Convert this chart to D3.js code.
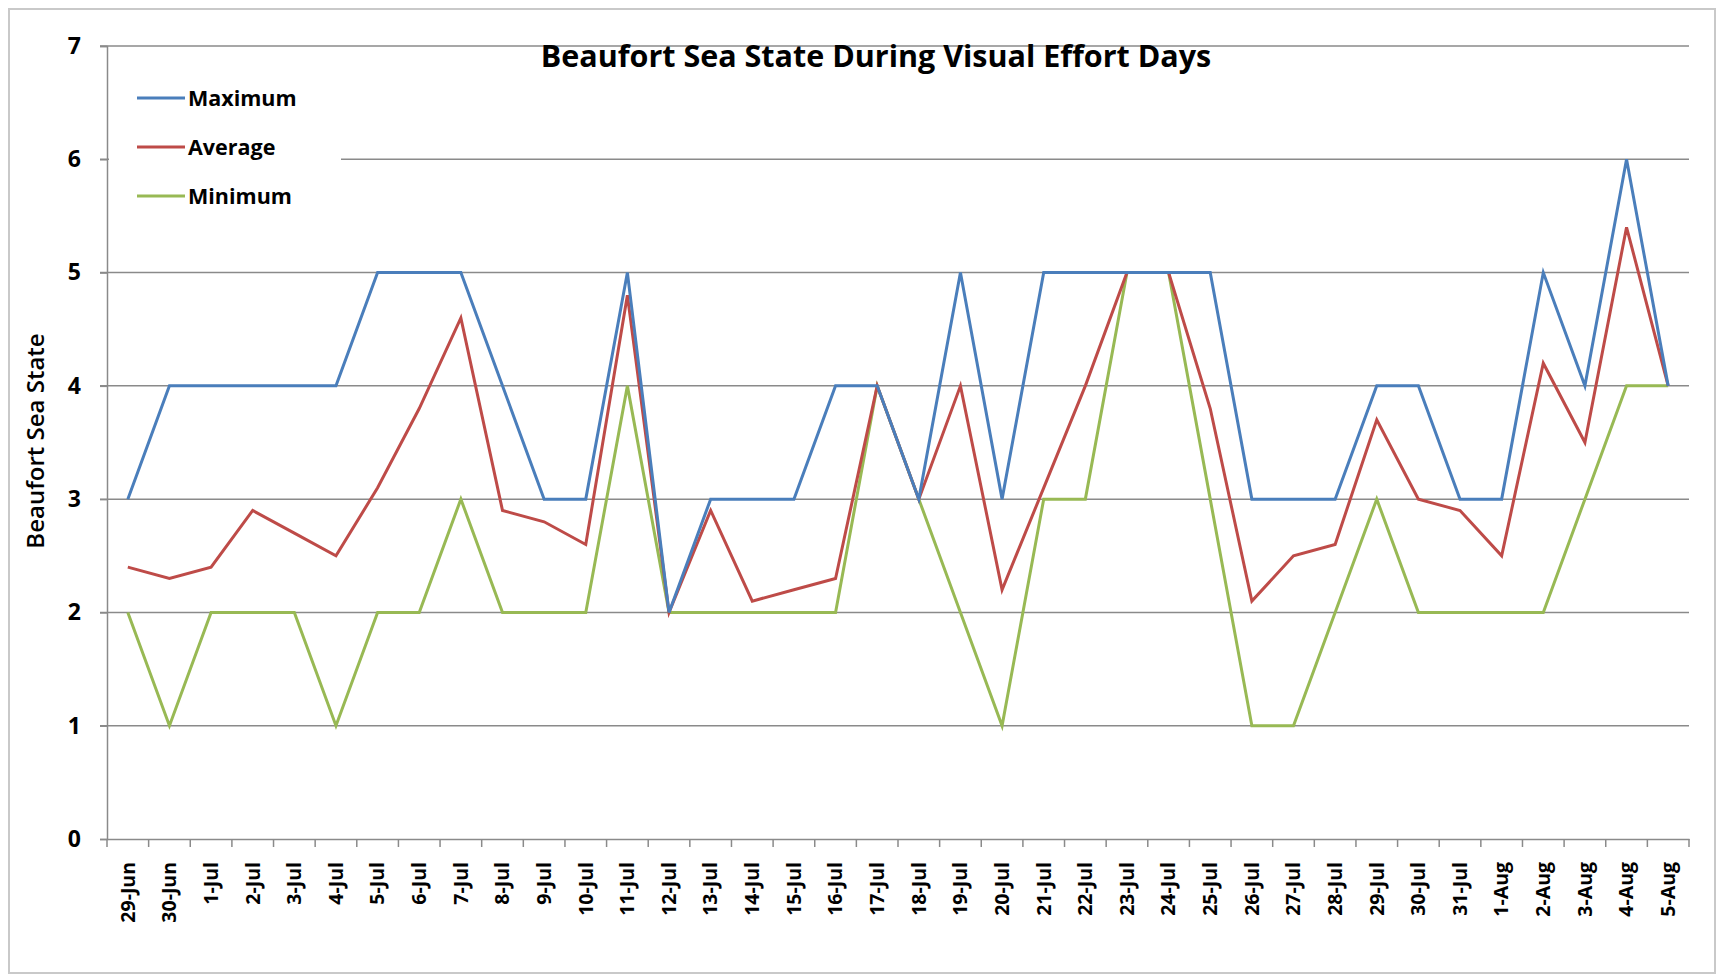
<!DOCTYPE html>
<html>
<head>
<meta charset="utf-8">
<script src="https://cdn.jsdelivr.net/npm/d3@7"></script>
<style>
    body { margin: 0; background: #fff; }
    #chart-area { width: 1722px; height: 979px; }
</style>
</head>
<body>
<div id="chart-area"></div>
<script>

// Days with visual effort
const days = [
    "29-Jun", "30-Jun",
    "1-Jul", "2-Jul", "3-Jul", "4-Jul", "5-Jul", "6-Jul", "7-Jul", "8-Jul", "9-Jul", "10-Jul",
    "11-Jul", "12-Jul", "13-Jul", "14-Jul", "15-Jul", "16-Jul", "17-Jul", "18-Jul", "19-Jul", "20-Jul",
    "21-Jul", "22-Jul", "23-Jul", "24-Jul", "25-Jul", "26-Jul", "27-Jul", "28-Jul", "29-Jul", "30-Jul",
    "31-Jul", "1-Aug", "2-Aug", "3-Aug", "4-Aug", "5-Aug"
];

// Beaufort sea state per day
const maximum = [3, 4, 4, 4, 4, 4, 5, 5, 5, 4, 3, 3, 5, 2, 3, 3, 3, 4, 4, 3, 5, 3, 5, 5, 5, 5, 5, 3, 3, 3, 4, 4, 3, 3, 5, 4, 6, 4];
const average = [2.4, 2.3, 2.4, 2.9, 2.7, 2.5, 3.1, 3.8, 4.6, 2.9, 2.8, 2.6, 4.8, 2.0, 2.9, 2.1, 2.2, 2.3, 4.0, 3.0, 4.0, 2.2, 3.1, 4.0, 5.0, 5.0, 3.8, 2.1, 2.5, 2.6, 3.7, 3.0, 2.9, 2.5, 4.2, 3.5, 5.4, 4.0];
const minimum = [2, 1, 2, 2, 2, 1, 2, 2, 3, 2, 2, 2, 4, 2, 2, 2, 2, 2, 4, 3, 2, 1, 3, 3, 5, 5, 3, 1, 1, 2, 3, 2, 2, 2, 2, 3, 4, 4];

const seriesNames = ["Maximum", "Average", "Minimum"];
const yTicks = [0, 1, 2, 3, 4, 5, 6, 7];

class SeaStateVis {

    constructor(parentElement) {
        this.parentElement = parentElement;
        this.initVis();
    }

    initVis() {
        let vis = this;

        vis.margin = { top: 46, right: 33, bottom: 140, left: 107 };
        vis.width = 1722 - vis.margin.left - vis.margin.right;
        vis.height = 979 - vis.margin.top - vis.margin.bottom;

        vis.root = d3.select("#" + vis.parentElement).append("svg")
            .attr("width", 1722)
            .attr("height", 979);

        // chart area border
        vis.root.append("rect")
            .attr("x", 9).attr("y", 9)
            .attr("width", 1706).attr("height", 964)
            .attr("fill", "none")
            .attr("stroke", "#c9c9c9")
            .attr("stroke-width", 2);

        vis.svg = vis.root.append("g")
            .attr("transform", `translate(${vis.margin.left},${vis.margin.top})`);

        vis.x = d3.scaleBand().domain(days).range([0, vis.width]);
        vis.y = d3.scaleLinear().domain([0, 7]).range([vis.height, 0]);

        vis.colors = d3.scaleOrdinal()
            .domain(seriesNames)
            .range(["#4a7ebb", "#be4b48", "#98b954"]);

        vis.wrangleData();
    }

    wrangleData() {
        let vis = this;
        const cols = [maximum, average, minimum];
        vis.series = seriesNames.map((name, i) => ({
            name: name,
            values: days.map((d, j) => ({ day: d, value: cols[i][j] }))
        }));
        vis.updateVis();
    }

    updateVis() {
        let vis = this;

        // horizontal gridlines
        vis.svg.selectAll(".grid")
            .data(yTicks.slice(1))
            .enter().append("line")
            .attr("class", "grid")
            .attr("x1", -7).attr("x2", vis.width)
            .attr("y1", d => vis.y(d)).attr("y2", d => vis.y(d))
            .attr("stroke", "#8a8a8a")
            .attr("stroke-width", 1.5);

        // y axis
        const yAxis = d3.axisLeft(vis.y)
            .tickValues(yTicks)
            .tickFormat(d3.format("d"))
            .tickSize(7)
            .tickPadding(19);
        const yg = vis.svg.append("g").call(yAxis);
        yg.select(".domain").attr("stroke", "#8a8a8a").attr("stroke-width", 1.5);
        yg.selectAll(".tick line").attr("stroke", "#8a8a8a").attr("stroke-width", 1.5);
        yg.selectAll("text")
            .style("font-family", "'Open Sans', sans-serif")
            .style("font-weight", "bold")
            .style("font-size", "23px")
            .attr("fill", "#000");

        // x axis
        const xAxis = d3.axisBottom(vis.x).tickSize(0).tickSizeOuter(0);
        const xg = vis.svg.append("g")
            .attr("transform", `translate(0,${vis.height})`)
            .call(xAxis);
        xg.select(".domain").attr("stroke", "#8a8a8a").attr("stroke-width", 1.5);
        xg.selectAll("text")
            .attr("transform", "rotate(-90)")
            .attr("x", -23).attr("y", 0).attr("dy", "0.35em")
            .style("text-anchor", "end")
            .style("font-family", "'Open Sans', sans-serif")
            .style("font-weight", "bold")
            .style("font-size", "19.5px")
            .attr("fill", "#000");

        // x tick marks at category boundaries
        vis.svg.selectAll(".xtick")
            .data(days.concat(["end"]))
            .enter().append("line")
            .attr("class", "xtick")
            .attr("x1", (d, i) => i * vis.x.bandwidth())
            .attr("x2", (d, i) => i * vis.x.bandwidth())
            .attr("y1", vis.height).attr("y2", vis.height + 8)
            .attr("stroke", "#8a8a8a")
            .attr("stroke-width", 1.5);

        // lines
        const line = d3.line()
            .x(d => vis.x(d.day) + vis.x.bandwidth() / 2)
            .y(d => vis.y(d.value));

        vis.svg.selectAll(".series")
            .data(vis.series.slice().reverse())
            .enter().append("path")
            .attr("class", "series")
            .attr("d", d => line(d.values))
            .attr("fill", "none")
            .attr("stroke", d => vis.colors(d.name))
            .attr("stroke-width", 3)
            .attr("stroke-linejoin", "miter");

        // y axis title
        vis.root.append("text")
            .attr("transform", "translate(44,441) rotate(-90)")
            .attr("text-anchor", "middle")
            .style("font-family", "'Open Sans', sans-serif")
            .style("font-weight", "600")
            .style("font-size", "24px")
            .text("Beaufort Sea State");

        // chart title
        vis.root.append("text")
            .attr("x", 876).attr("y", 67)
            .attr("text-anchor", "middle")
            .style("font-family", "'Open Sans', sans-serif")
            .style("font-weight", "bold")
            .style("font-size", "30.5px")
            .text("Beaufort Sea State During Visual Effort Days");

        // legend
        const legend = vis.root.append("g");
        legend.append("rect")
            .attr("x", vis.margin.left + 2).attr("y", 70)
            .attr("width", 232).attr("height", 150)
            .attr("fill", "#fff");

        const items = legend.selectAll(".legend-item")
            .data(seriesNames)
            .enter().append("g")
            .attr("class", "legend-item")
            .attr("transform", (d, i) => `translate(137,${98 + i * 49})`);

        items.append("line")
            .attr("x1", 0).attr("x2", 48)
            .attr("y1", 0).attr("y2", 0)
            .attr("stroke", d => vis.colors(d))
            .attr("stroke-width", 3);

        items.append("text")
            .attr("x", 51).attr("y", 0).attr("dy", "0.35em")
            .style("font-family", "'Open Sans', sans-serif")
            .style("font-weight", "bold")
            .style("font-size", "21.5px")
            .text(d => d);
    }
}

new SeaStateVis("chart-area");
</script>
</body>
</html>
